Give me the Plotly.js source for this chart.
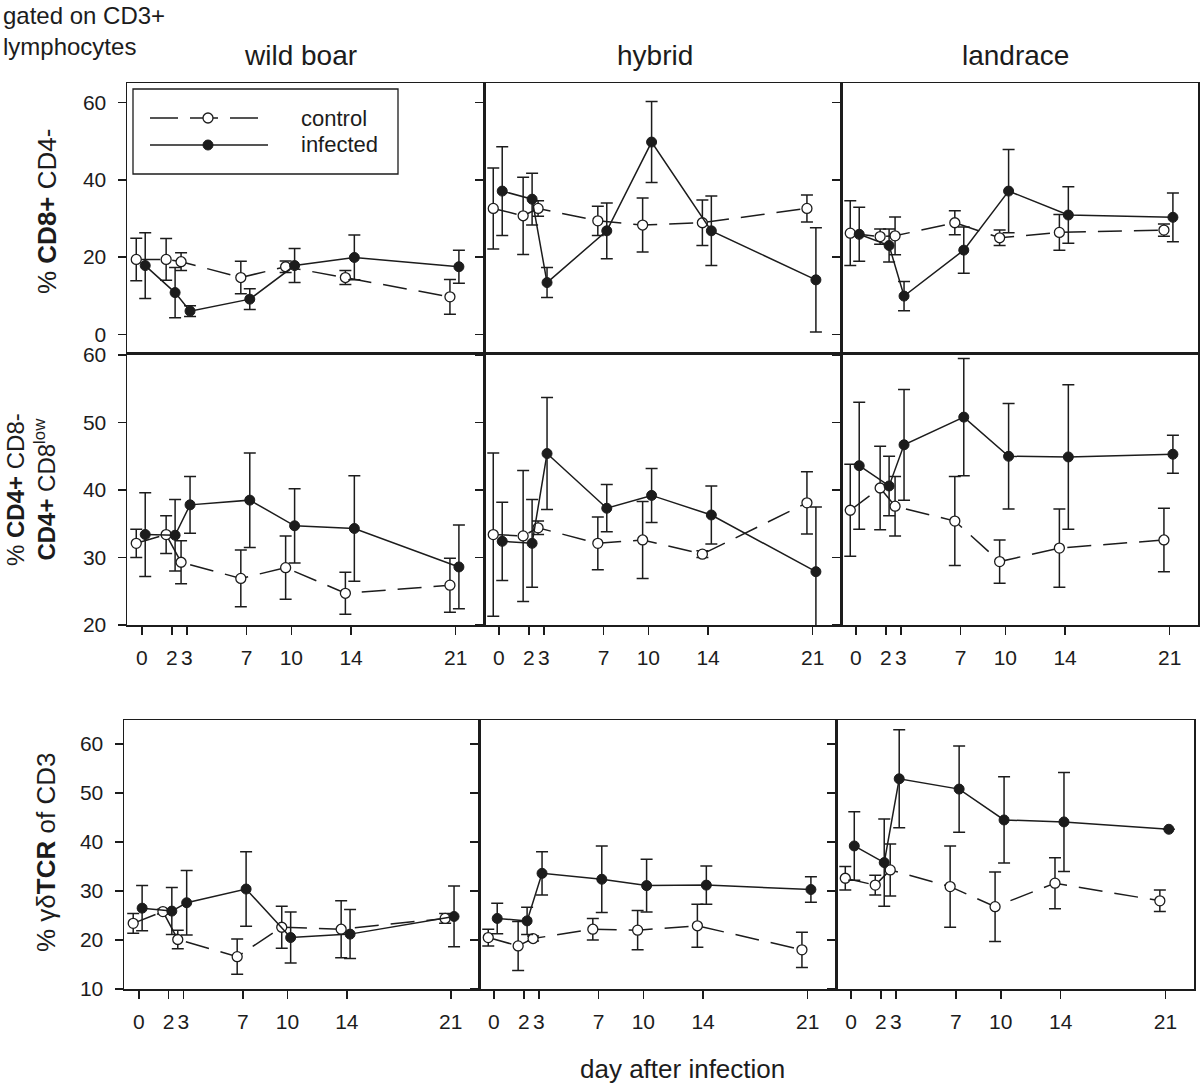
<!DOCTYPE html>
<html><head><meta charset="utf-8">
<script src="https://cdn.plot.ly/plotly-3.0.1.min.js"></script>
<style>html,body{margin:0;padding:0;background:#fff;} #chart{width:1200px;height:1085px;}</style>
</head><body><div id="chart"></div>
<script>
// ---------- DATA ----------
const days = [0, 2, 3, 7, 10, 14, 21];
const dayLabels = ['0', '2', '3', '7', '10', '14', '21'];
const groups = ['wild boar', 'hybrid', 'landrace'];
const seriesNames = ['control', 'infected'];

// Row 1: % CD8+ CD4-
const cd8_wildboar_control = [19.4, 19.4, 18.8, 14.7, 17.5, 14.7, 9.7];
const cd8_wildboar_control_err = [5.5, 5.4, 2.3, 4.2, 1.5, 1.8, 4.5];
const cd8_wildboar_infected = [17.8, 10.8, 6.0, 9.1, 17.8, 19.9, 17.5];
const cd8_wildboar_infected_err = [8.5, 6.5, 1.4, 2.7, 4.4, 5.8, 4.3];
const cd8_hybrid_control = [32.6, 30.7, 32.6, 29.4, 28.3, 28.9, 32.6];
const cd8_hybrid_control_err = [10.5, 10.0, 2.0, 3.8, 7.0, 5.9, 3.5];
const cd8_hybrid_infected = [37.1, 35.0, 13.4, 26.8, 49.8, 26.8, 14.1];
const cd8_hybrid_infected_err = [11.5, 6.7, 3.9, 7.2, 10.5, 9.0, 13.5];
const cd8_landrace_control = [26.2, 25.3, 25.5, 28.9, 25.0, 26.4, 27.0];
const cd8_landrace_control_err = [8.4, 2.0, 4.9, 3.1, 2.0, 4.6, 1.6];
const cd8_landrace_infected = [25.9, 23.0, 9.9, 21.8, 37.1, 30.9, 30.3];
const cd8_landrace_infected_err = [7.0, 4.3, 3.8, 6.0, 10.8, 7.3, 6.3];

// Row 2: % CD4+ CD8- / CD4+ CD8low
const cd4_wildboar_control = [32.1, 33.4, 29.3, 26.9, 28.5, 24.7, 25.9];
const cd4_wildboar_control_err = [2.1, 2.8, 3.2, 4.2, 4.7, 3.1, 4.0];
const cd4_wildboar_infected = [33.4, 33.3, 37.8, 38.5, 34.7, 34.3, 28.6];
const cd4_wildboar_infected_err = [6.2, 5.3, 4.2, 7.0, 5.5, 7.8, 6.2];
const cd4_hybrid_control = [33.4, 33.2, 34.4, 32.1, 32.6, 30.5, 38.1];
const cd4_hybrid_control_err = [12.1, 9.7, 1.0, 3.9, 5.7, 0.5, 4.6];
const cd4_hybrid_infected = [32.4, 32.1, 45.4, 37.3, 39.2, 36.3, 27.9];
const cd4_hybrid_infected_err = [5.8, 6.5, 8.3, 3.5, 4.0, 4.3, 9.6];
const cd4_landrace_control = [37.0, 40.3, 37.6, 35.4, 29.4, 31.4, 32.6];
const cd4_landrace_control_err = [6.8, 6.2, 4.4, 6.6, 3.2, 5.8, 4.7];
const cd4_landrace_infected = [43.6, 40.6, 46.7, 50.8, 45.0, 44.9, 45.3];
const cd4_landrace_infected_err = [9.4, 4.4, 8.2, 8.7, 7.8, 10.7, 2.8];

// Row 3: % γδTCR of CD3
const gd_wildboar_control = [23.4, 25.8, 20.1, 16.6, 22.6, 22.2, 24.4];
const gd_wildboar_control_err = [2.0, 0.5, 1.9, 3.6, 4.3, 5.8, 1.0];
const gd_wildboar_infected = [26.5, 25.9, 27.6, 30.4, 20.5, 21.2, 24.8];
const gd_wildboar_infected_err = [4.6, 4.8, 6.6, 7.6, 5.2, 5.0, 6.2];
const gd_hybrid_control = [20.5, 18.8, 20.3, 22.2, 22.0, 22.9, 18.0];
const gd_hybrid_control_err = [1.7, 5.0, 0.5, 2.2, 4.0, 4.4, 3.6];
const gd_hybrid_infected = [24.4, 23.9, 33.6, 32.4, 31.1, 31.2, 30.3];
const gd_hybrid_infected_err = [3.1, 2.8, 4.4, 6.8, 5.4, 3.9, 2.6];
const gd_landrace_control = [32.6, 31.2, 34.3, 30.9, 26.8, 31.6, 28.0];
const gd_landrace_control_err = [2.4, 2.0, 5.3, 8.3, 7.1, 5.2, 2.2];
const gd_landrace_infected = [39.2, 35.8, 52.9, 50.8, 44.5, 44.1, 42.6];
const gd_landrace_infected_err = [7.0, 8.9, 10.0, 8.8, 8.8, 10.1, null];

const yTicksRow1 = [0, 20, 40, 60];
const yTicksRow2 = [20, 30, 40, 50, 60];
const yTicksRow3 = [10, 20, 30, 40, 50, 60];

// ---------- ASSEMBLY ----------
const panels = [
  [[cd8_wildboar_control, cd8_wildboar_control_err, cd8_wildboar_infected, cd8_wildboar_infected_err],
   [cd8_hybrid_control, cd8_hybrid_control_err, cd8_hybrid_infected, cd8_hybrid_infected_err],
   [cd8_landrace_control, cd8_landrace_control_err, cd8_landrace_infected, cd8_landrace_infected_err]],
  [[cd4_wildboar_control, cd4_wildboar_control_err, cd4_wildboar_infected, cd4_wildboar_infected_err],
   [cd4_hybrid_control, cd4_hybrid_control_err, cd4_hybrid_infected, cd4_hybrid_infected_err],
   [cd4_landrace_control, cd4_landrace_control_err, cd4_landrace_infected, cd4_landrace_infected_err]],
  [[gd_wildboar_control, gd_wildboar_control_err, gd_wildboar_infected, gd_wildboar_infected_err],
   [gd_hybrid_control, gd_hybrid_control_err, gd_hybrid_infected, gd_hybrid_infected_err],
   [gd_landrace_control, gd_landrace_control_err, gd_landrace_infected, gd_landrace_infected_err]]
];
const yTicks = [yTicksRow1, yTicksRow2, yTicksRow3];

const W = 1200, H = 1085;
const px = v => v / W;
const py = v => 1 - v / H;
const FONT = 'Liberation Sans, Arial, sans-serif';
const INK = '#1c1c1c';

// pixel frames of each row / column
const rowPix = [[83, 353], [353, 625], [720, 989]];
const colPix = [
  [[127, 484], [484, 841], [841, 1198]],
  [[127, 484], [484, 841], [841, 1198]],
  [[124, 479], [479, 836], [836, 1194]]
];
const yRanges = [[-4.85, 65.1], [20, 60.3], [10, 64.9]];
const xRange = [-1.0, 22.9];
const ctrlOffset = -0.38, infOffset = 0.22;

const traces = [];
const layout = {
  width: W, height: H,
  margin: {l: 0, r: 0, t: 0, b: 0},
  paper_bgcolor: '#fff', plot_bgcolor: '#fff',
  showlegend: false,
  font: {family: FONT, color: INK, size: 20},
  shapes: [], annotations: []
};

for (let r = 0; r < 3; r++) {
  for (let c = 0; c < 3; c++) {
    const i = r * 3 + c + 1;
    const xa = 'xaxis' + (i === 1 ? '' : i), ya = 'yaxis' + (i === 1 ? '' : i);
    const xr = 'x' + (i === 1 ? '' : i), yr = 'y' + (i === 1 ? '' : i);
    const [x0, x1] = colPix[r][c];
    const [y0, y1] = rowPix[r];
    layout[xa] = {
      domain: [px(x0), px(x1)], anchor: yr, range: xRange,
      showgrid: false, zeroline: false,
      showline: true, mirror: true, linecolor: INK, linewidth: 1.5,
      tickmode: 'array', tickvals: days, ticktext: dayLabels,
      ticks: r === 0 ? '' : 'outside', ticklen: 8, tickwidth: 1.5, tickcolor: INK,
      showticklabels: r !== 0, ticklabelstandoff: 5,
      tickfont: {family: FONT, size: 21, color: INK},
      fixedrange: true
    };
    layout[ya] = {
      domain: [py(y1), py(y0)], anchor: xr, range: yRanges[r],
      showgrid: false, zeroline: false,
      showline: true, mirror: true, linecolor: INK, linewidth: 1.5,
      tickmode: 'array', tickvals: yTicks[r],
      ticks: 'outside', ticklen: 8, tickwidth: 1.5, tickcolor: INK,
      showticklabels: c === 0, ticklabelstandoff: 7,
      tickfont: {family: FONT, size: 21, color: INK},
      fixedrange: true
    };
    const [ctrl, ctrlErr, inf, infErr] = panels[r][c];
    traces.push({
      type: 'scatter', mode: 'lines+markers', xaxis: xr, yaxis: yr,
      name: seriesNames[0],
      x: days.map(d => d + ctrlOffset), y: ctrl,
      line: {color: INK, width: 1.5, dash: '24px,12px'},
      marker: {symbol: 'circle', size: 10, color: '#fff', line: {color: INK, width: 1.3}},
      error_y: {type: 'data', array: ctrlErr, visible: true, color: INK, thickness: 1.5, width: 6},
      cliponaxis: false, hoverinfo: 'skip'
    });
    traces.push({
      type: 'scatter', mode: 'lines+markers', xaxis: xr, yaxis: yr,
      name: seriesNames[1],
      x: days.map(d => d + infOffset), y: inf,
      line: {color: INK, width: 1.5},
      marker: {symbol: 'circle', size: 10, color: INK, line: {color: INK, width: 1}},
      error_y: {type: 'data', array: infErr, visible: true, color: INK, thickness: 1.5, width: 6},
      cliponaxis: false, hoverinfo: 'skip'
    });
  }
}

// column titles
const colTitleX = [300, 655, 1015];
groups.forEach((g, k) => {
  layout.annotations.push({xref: 'paper', yref: 'paper', x: px(colTitleX[k]), y: py(55),
    xanchor: 'center', yanchor: 'middle', showarrow: false, text: g,
    font: {family: FONT, size: 28, color: INK}});
});
// top-left note
layout.annotations.push({xref: 'paper', yref: 'paper', x: px(1), y: py(0), xanchor: 'left', yanchor: 'top',
  align: 'left', showarrow: false, text: 'gated on CD3+<br>lymphocytes',
  font: {family: FONT, size: 24, color: INK}});
// y titles
layout.annotations.push({xref: 'paper', yref: 'paper', x: px(47), y: py(212), xanchor: 'center', yanchor: 'middle',
  textangle: -90, showarrow: false, text: '% <b>CD8+</b> CD4-', font: {family: FONT, size: 26, color: INK}});
layout.annotations.push({xref: 'paper', yref: 'paper', x: px(31), y: py(490), xanchor: 'center', yanchor: 'middle',
  textangle: -90, showarrow: false, text: '% <b>CD4+</b> CD8-<br><b>CD4+</b> CD8<sup>low</sup>',
  font: {family: FONT, size: 24, color: INK}});
layout.annotations.push({xref: 'paper', yref: 'paper', x: px(46), y: py(853), xanchor: 'center', yanchor: 'middle',
  textangle: -90, showarrow: false, text: '% γδ<b>TCR</b> of CD3', font: {family: FONT, size: 26, color: INK}});
// x title
layout.annotations.push({xref: 'paper', yref: 'paper', x: px(682), y: py(1069), xanchor: 'center', yanchor: 'middle',
  showarrow: false, text: 'day after infection', font: {family: FONT, size: 26, color: INK}});

// legend (drawn manually in the first panel)
layout.shapes.push({type: 'rect', xref: 'paper', yref: 'paper', x0: px(133), x1: px(398), y0: py(174), y1: py(89),
  line: {color: INK, width: 1.3}, fillcolor: 'rgba(0,0,0,0)'});
layout.shapes.push({type: 'line', xref: 'paper', yref: 'paper', x0: px(150), x1: px(258), y0: py(118), y1: py(118),
  line: {color: INK, width: 1.5, dash: '28px,12px'}});
layout.shapes.push({type: 'line', xref: 'paper', yref: 'paper', x0: px(150), x1: px(268), y0: py(145), y1: py(145),
  line: {color: INK, width: 1.5}});
layout.shapes.push({type: 'circle', xref: 'paper', yref: 'paper', xsizemode: 'pixel', ysizemode: 'pixel',
  xanchor: px(208), yanchor: py(118), x0: -5, x1: 5, y0: -5, y1: 5, fillcolor: '#fff', line: {color: INK, width: 1.3}});
layout.shapes.push({type: 'circle', xref: 'paper', yref: 'paper', xsizemode: 'pixel', ysizemode: 'pixel',
  xanchor: px(208), yanchor: py(145), x0: -5, x1: 5, y0: -5, y1: 5, fillcolor: INK, line: {color: INK, width: 1}});
layout.annotations.push({xref: 'paper', yref: 'paper', x: px(299), y: py(118), xanchor: 'left', yanchor: 'middle',
  showarrow: false, text: seriesNames[0], font: {family: FONT, size: 22, color: INK}});
layout.annotations.push({xref: 'paper', yref: 'paper', x: px(299), y: py(145), xanchor: 'left', yanchor: 'middle',
  showarrow: false, text: seriesNames[1], font: {family: FONT, size: 22, color: INK}});

Plotly.newPlot('chart', traces, layout, {staticPlot: true, displayModeBar: false});
</script>
</body></html>
